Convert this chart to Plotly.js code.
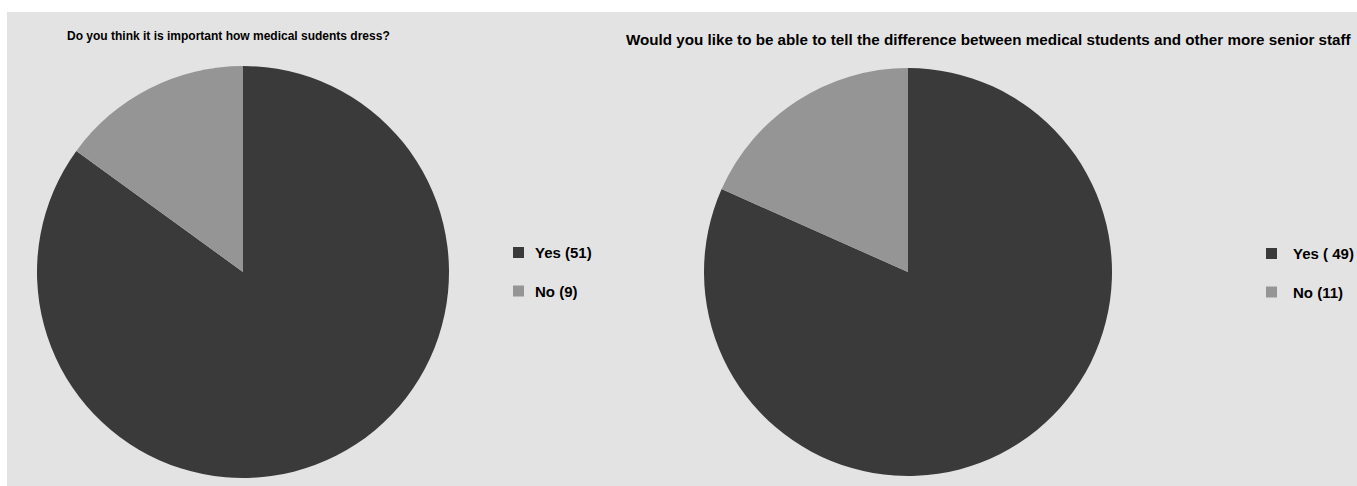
<!DOCTYPE html>
<html>
<head>
<meta charset="utf-8">
<script src="https://cdn.plot.ly/plotly-3.0.1.min.js"></script>
<style>
html,body{margin:0;padding:0;background:#ffffff;}
#chart{width:1357px;height:486px;}
</style>
</head>
<body>
<div id="chart"></div>
<script>
// ---- data ----
const categories = ['Yes', 'No'];
const q1Counts = [51, 9];
const q2Counts = [49, 11];
const q1Labels = ['Yes (51)', 'No (9)'];
const q2Labels = ['Yes ( 49)', 'No (11)'];
const q1Title = 'Do you think it is important how medical sudents dress?';
const q2Title = 'Would you like to be able to tell the difference between medical students and other more senior staff';
const sliceColors = ['#3a3a3a', '#959595'];

// ---- layout helpers (pixel -> paper) ----
const W = 1357, H = 486;
const px = x => x / W;
const py = y => 1 - y / H;
function dom(cx, cy, r) {
  return { x: [px(cx - r), px(cx + r)], y: [py(cy + r), py(cy - r)] };
}

const fontFam = 'Liberation Sans, Arial, sans-serif';

const traces = [
  {
    type: 'pie', values: q1Counts, labels: q1Labels, sort: false,
    direction: 'clockwise', rotation: 0, textinfo: 'none', showlegend: false,
    marker: { colors: sliceColors, line: { width: 0 } },
    domain: dom(243, 272, 206), hoverinfo: 'label+percent'
  },
  {
    type: 'pie', values: q2Counts, labels: q2Labels, sort: false,
    direction: 'clockwise', rotation: 0, textinfo: 'none', showlegend: false,
    marker: { colors: sliceColors, line: { width: 0 } },
    domain: dom(908, 272, 204), hoverinfo: 'label+percent'
  }
];

const shapes = [
  { type: 'rect', xref: 'paper', yref: 'paper', x0: px(7), x1: 1, y0: 0, y1: py(12),
    fillcolor: '#e3e3e3', line: { width: 0 }, layer: 'below' }
];
const annotations = [
  { text: q1Title, x: px(228), y: py(36), xref: 'paper', yref: 'paper', showarrow: false,
    xanchor: 'center', yanchor: 'middle', font: { family: fontFam, size: 12, weight: 'bold', color: '#000' } },
  { text: q2Title, x: px(989), y: py(40), xref: 'paper', yref: 'paper', showarrow: false,
    xanchor: 'center', yanchor: 'middle', font: { family: fontFam, size: 15.2, weight: 'bold', color: '#000' } }
];

function addLegend(labels, sqX, textX, ys) {
  labels.forEach((lab, i) => {
    const s = 11;
    shapes.push({ type: 'rect', xref: 'paper', yref: 'paper',
      x0: px(sqX - s / 2), x1: px(sqX + s / 2), y0: py(ys[i] + s / 2), y1: py(ys[i] - s / 2),
      fillcolor: sliceColors[i], line: { width: 0 } });
    annotations.push({ text: lab, x: px(textX), y: py(ys[i]), xref: 'paper', yref: 'paper',
      showarrow: false, xanchor: 'left', yanchor: 'middle', borderpad: 0,
      font: { family: fontFam, size: 15, weight: 'bold', color: '#000' } });
  });
}
addLegend(q1Labels, 518.5, 534, [252.5, 291]);
addLegend(q2Labels, 1271.5, 1292, [253.5, 292]);

const layout = {
  width: W, height: H,
  margin: { l: 0, r: 0, t: 0, b: 0 },
  paper_bgcolor: '#ffffff',
  showlegend: false,
  shapes: shapes,
  annotations: annotations
};

Plotly.newPlot('chart', traces, layout, { displayModeBar: false, staticPlot: true });
</script>
</body>
</html>
